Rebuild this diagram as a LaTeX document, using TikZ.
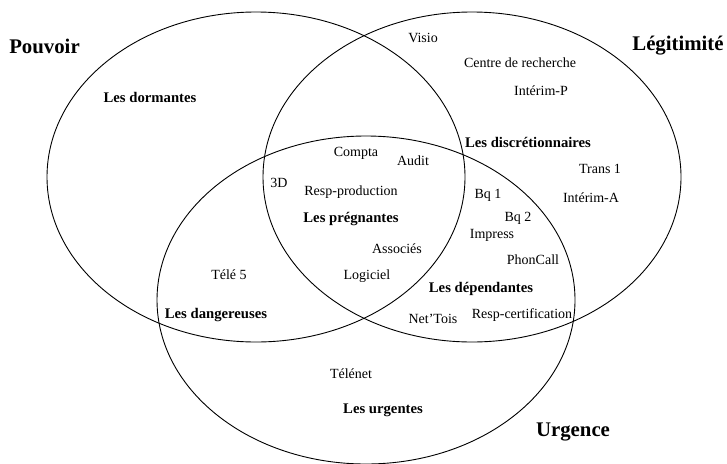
\documentclass[tikz,border=0pt]{standalone}
\usepackage{fontspec}
\setmainfont{Liberation Serif}
\begin{document}
\begin{tikzpicture}[x=1pt,y=-1pt,
  set/.style={line width=0.9pt},
  lab/.style={anchor=base,inner sep=0pt,font=\fontsize{14}{16}\selectfont},
  grp/.style={anchor=base,inner sep=0pt,font=\fontsize{14.7}{17}\selectfont\bfseries},
  ttl/.style={anchor=base,inner sep=0pt,font=\fontsize{20.8}{24}\selectfont\bfseries}]
\useasboundingbox (0,0) rectangle (727,463);
\draw[set] (256,177) ellipse [x radius=209pt, y radius=165pt];
\draw[set] (472,177) ellipse [x radius=209pt, y radius=165pt];
\draw[set] (366,300) ellipse [x radius=209pt, y radius=164pt];
% titles
\node[ttl] (pouvoir) at (44.5,53) {Pouvoir};
\node[ttl] (legit) at (678,50) {Légitimité};
\node[ttl] (urgence) at (573,436) {Urgence};
% group labels
\node[grp] (dorm) at (150,102) {Les dormantes};
\node[grp] (discr) at (528,147) {Les discrétionnaires};
\node[grp] (pregn) at (351,222) {Les prégnantes};
\node[grp] (depend) at (481,292) {Les dépendantes};
\node[grp] (danger) at (216,318) {Les dangereuses};
\node[grp] (urg) at (383,413) {Les urgentes};
% items
\node[lab] (visio) at (423,42) {Visio};
\node[lab] (centre) at (520,67) {Centre de recherche};
\node[lab] (interimp) at (541,95) {Intérim-P};
\node[lab] (compta) at (356,156) {Compta};
\node[lab] (audit) at (413,165) {Audit};
\node[lab] (td) at (279,187) {3D};
\node[lab] (respprod) at (351,195) {Resp-production};
\node[lab] (trans) at (600,173) {Trans 1};
\node[lab] (bqa) at (488,198) {Bq 1};
\node[lab] (interima) at (591,202) {Intérim-A};
\node[lab] (bqb) at (518,221) {Bq 2};
\node[lab] (impress) at (492,238) {Impress};
\node[lab] (assoc) at (397,253) {Associés};
\node[lab] (phon) at (533,264) {PhonCall};
\node[lab] (logi) at (367,279) {Logiciel};
\node[lab] (nettois) at (433,323) {Net’Tois};
\node[lab] (respcert) at (522,318) {Resp-certification};
\node[lab] (tele) at (229,279) {Télé 5};
\node[lab] (telenet) at (351,378) {Télénet};
\end{tikzpicture}
\end{document}
